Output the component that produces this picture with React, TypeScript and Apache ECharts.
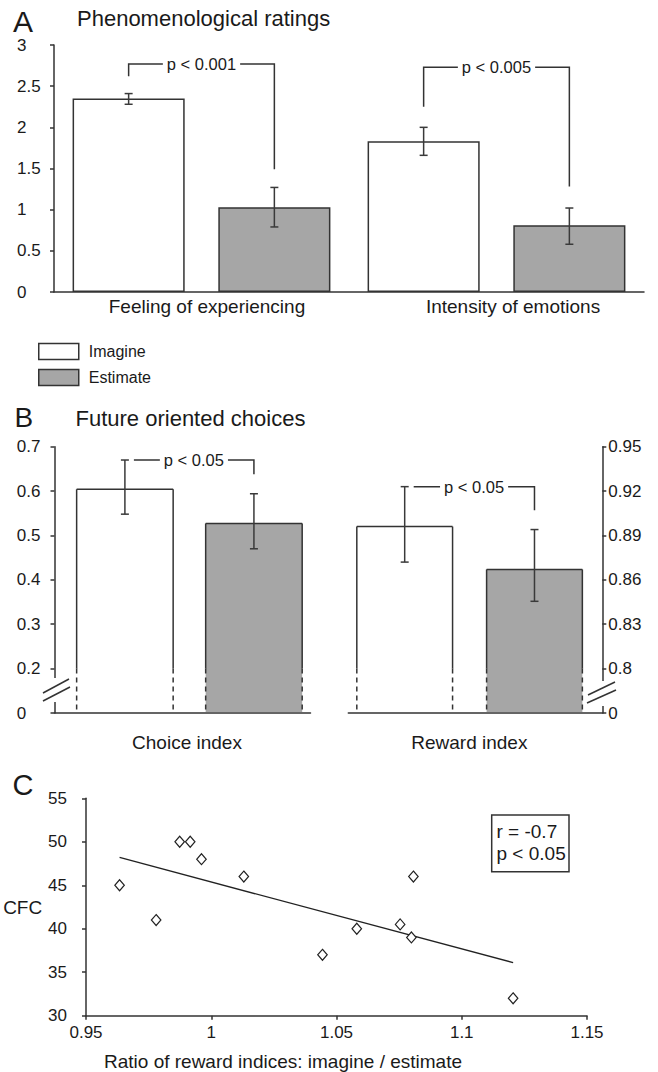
import React, { useEffect, useRef } from 'react';
import * as echarts from 'echarts';

// ---------- Panel A: Phenomenological ratings ----------
const aCategories = ['Feeling of experiencing', 'Intensity of emotions'];
const aImagine = [2.35, 1.83];
const aImagineLow = [2.28, 1.66];
const aImagineHigh = [2.41, 2.0];
const aEstimate = [1.03, 0.81];
const aEstimateLow = [0.79, 0.58];
const aEstimateHigh = [1.27, 1.02];
const aBracketLeft = [2.62, 2.25];
const aBracketTop = [2.77, 2.73];
const aBracketRight = [1.49, 1.28];
const aPLabels = ['p < 0.001', 'p < 0.005'];

// ---------- Panel B: Future oriented choices ----------
const bCategories = ['Choice index', 'Reward index'];
const bImagine = [0.604, 0.896];
const bImagineLow = [0.548, 0.872];
const bImagineHigh = [0.67, 0.923];
const bEstimate = [0.527, 0.867];
const bEstimateLow = [0.47, 0.8455];
const bEstimateHigh = [0.594, 0.894];
const bBreakAt = [0.2, 0.8];
const bBracketY = [0.67, 0.923];
const bBracketRight = [0.638, 0.907];
const bPLabels = ['p < 0.05', 'p < 0.05'];

// ---------- Panel C: CFC vs ratio ----------
const cRatio = [0.9634, 0.978, 0.9874, 0.9916, 0.9961, 1.013, 1.0444, 1.0581, 1.0754, 1.0799, 1.0807, 1.1205];
const cCFC = [45, 41, 50, 50, 48, 46, 37, 40, 40.5, 39, 46, 32];
const cFitX = [0.9634, 1.1205];
const cFitY = [48.2, 36.1];

const FONT = "'Liberation Sans', Arial, Helvetica, sans-serif";
const INK = '#1a1a1a';
const LINE = '#333333';
const GREY = '#a6a6a6';

const A_BAR_W = 0.38;
const A_GAP = 0.3;
const A_OFF = (A_BAR_W * (1 + A_GAP)) / 2;
const B_BAR_W = 0.377;
const B_OFFSETS = [
  [-0.225, 0.279],
  [-0.278, 0.233],
];

function errBar(children: any[], x: number, y1: number, y2: number) {
  const st = { stroke: '#3a3a3a', lineWidth: 1.5 };
  children.push({ type: 'line', shape: { x1: x, y1, x2: x, y2 }, style: st });
  children.push({ type: 'line', shape: { x1: x - 4, y1, x2: x + 4, y2: y1 }, style: st });
  children.push({ type: 'line', shape: { x1: x - 4, y1: y2, x2: x + 4, y2 }, style: st });
}

function pText(text: string, x: number, y: number) {
  return {
    type: 'text',
    z2: 10,
    style: {
      text,
      x,
      y,
      fill: INK,
      fontSize: 16.5,
      fontFamily: FONT,
      align: 'center',
      verticalAlign: 'middle',
      textAlign: 'center',
      textVerticalAlign: 'middle',
      backgroundColor: '#fff',
      padding: [1, 4, 1, 4],
    },
  };
}

function renderA(params: any, api: any) {
  const i = api.value(0);
  const band = api.size([1, 0])[0];
  const cx = api.coord([i, 0])[0];
  const xs = [cx - A_OFF * band, cx + A_OFF * band];
  const y = (v: number) => api.coord([i, v])[1];
  const children: any[] = [];
  errBar(children, xs[0], y(api.value(1)), y(api.value(2)));
  errBar(children, xs[1], y(api.value(3)), y(api.value(4)));
  const yl = y(api.value(5));
  const yt = y(api.value(6));
  const yr = y(api.value(7));
  children.push({
    type: 'polyline',
    shape: { points: [[xs[0], yl], [xs[0], yt], [xs[1], yt], [xs[1], yr]] },
    style: { stroke: LINE, lineWidth: 1.5, fill: null },
  });
  children.push(pText(aPLabels[params.dataIndex], cx, yt));
  return { type: 'group', children };
}

function makeRenderB(g: number) {
  return (params: any, api: any) => {
    const band = api.size([1, 0])[0];
    const cx = api.coord([0, api.value(1)])[0];
    const bottom = params.coordSys.y + params.coordSys.height - 1;
    const y = (v: number) => api.coord([0, v])[1];
    const bw = B_BAR_W * band;
    const yBreak = y(api.value(7));
    const fills = ['#ffffff', GREY];
    const solid = { stroke: LINE, lineWidth: 1.5 };
    const dashed = { stroke: LINE, lineWidth: 1.5, lineDash: [5, 4] };
    const children: any[] = [];
    const centers: number[] = [];
    for (let j = 0; j < 2; j++) {
      const xc = cx + B_OFFSETS[g][j] * band;
      centers.push(xc);
      const x0 = xc - bw / 2;
      const x1 = xc + bw / 2;
      const yTop = y(api.value(1 + 3 * j));
      children.push({ type: 'rect', shape: { x: x0, y: yTop, width: bw, height: bottom - yTop }, style: { fill: fills[j] } });
      children.push({ type: 'line', shape: { x1: x0, y1: yTop, x2: x1, y2: yTop }, style: solid });
      children.push({ type: 'line', shape: { x1: x0, y1: yTop, x2: x0, y2: yBreak }, style: solid });
      children.push({ type: 'line', shape: { x1: x1, y1: yTop, x2: x1, y2: yBreak }, style: solid });
      children.push({ type: 'line', shape: { x1: x0, y1: yBreak, x2: x0, y2: bottom }, style: dashed });
      children.push({ type: 'line', shape: { x1: x1, y1: yBreak, x2: x1, y2: bottom }, style: dashed });
      errBar(children, xc, y(api.value(2 + 3 * j)), y(api.value(3 + 3 * j)));
    }
    const yb = y(api.value(8));
    const yr = y(api.value(9));
    const xl = centers[0] + 9;
    const xr = centers[1];
    children.push({
      type: 'polyline',
      shape: { points: [[xl, yb], [xr, yb], [xr, yr]] },
      style: { stroke: LINE, lineWidth: 1.5, fill: null },
    });
    children.push(pText(bPLabels[g], (xl + xr) / 2, yb));
    return { type: 'group', children };
  };
}

function gText(text: string, x: number, y: number, fontSize: number) {
  return {
    type: 'text',
    x,
    y,
    z: 100,
    style: {
      text,
      fill: INK,
      fontSize,
      fontFamily: FONT,
      textAlign: 'left',
      textVerticalAlign: 'middle',
      align: 'left',
      verticalAlign: 'middle',
    },
  };
}

const axisLine = { show: true, onZero: false, lineStyle: { color: LINE, width: 1.5 } };
const axisTick = { show: true, length: 4, lineStyle: { color: LINE, width: 1.5 } };
const tickLabel = { color: INK, fontSize: 17, fontFamily: FONT };

export default function App() {
  const ref = useRef<HTMLDivElement>(null);

  useEffect(() => {
    document.body.style.margin = '0';
    if (!ref.current) return;
    const chart = echarts.init(ref.current, null, { renderer: 'svg' });

    const aRows = aCategories.map((_, i) => [
      i,
      aImagineLow[i],
      aImagineHigh[i],
      aEstimateLow[i],
      aEstimateHigh[i],
      aBracketLeft[i],
      aBracketTop[i],
      aBracketRight[i],
    ]);
    const bRows = bCategories.map((_, g) => [
      [0, bImagine[g], bImagineLow[g], bImagineHigh[g], bEstimate[g], bEstimateLow[g], bEstimateHigh[g], bBreakAt[g], bBracketY[g], bBracketRight[g]],
    ]);

    const option: any = {
      animation: false,
      backgroundColor: '#ffffff',
      textStyle: { fontFamily: FONT, color: INK },
      grid: [
        { left: 54, top: 45, width: 590, height: 247 },
        { left: 54.5, top: 446.7, width: 256, height: 266.3 },
        { left: 348.3, top: 446.7, width: 254, height: 266.3 },
        { left: 86, top: 798.3, width: 501, height: 217.4 },
      ],
      legend: {
        data: ['Imagine', 'Estimate'],
        orient: 'vertical',
        left: 33,
        top: 337.7,
        itemWidth: 40,
        itemHeight: 16,
        itemGap: 8.6,
        icon: 'rect',
        selectedMode: false,
        itemStyle: { borderColor: LINE, borderWidth: 1.5 },
        textStyle: { fontSize: 16, color: INK, fontFamily: FONT, padding: [0, 0, 0, 5] },
      },
      xAxis: [
        {
          gridIndex: 0,
          type: 'category',
          data: [
            { value: aCategories[0], textStyle: { padding: [0, 0, 0, 11] } },
            { value: aCategories[1], textStyle: { padding: [0, 0, 0, 33] } },
          ],
          axisLine,
          axisTick: { show: false },
          axisLabel: { color: INK, fontSize: 19, fontFamily: FONT, margin: 5 },
        },
        {
          gridIndex: 1,
          type: 'category',
          data: [{ value: bCategories[0], textStyle: { padding: [0, 0, 0, 9] } }],
          axisLine,
          axisTick: { show: false },
          axisLabel: { color: INK, fontSize: 19, fontFamily: FONT, margin: 20 },
        },
        {
          gridIndex: 2,
          type: 'category',
          data: [{ value: bCategories[1], textStyle: { padding: [0, 12, 0, 0] } }],
          axisLine,
          axisTick: { show: false },
          axisLabel: { color: INK, fontSize: 19, fontFamily: FONT, margin: 20 },
        },
        {
          gridIndex: 3,
          type: 'value',
          min: 0.95,
          max: 1.15,
          interval: 0.05,
          axisLine,
          axisTick,
          splitLine: { show: false },
          axisLabel: { ...tickLabel, margin: 8, formatter: (v: number) => String(Math.round(v * 100) / 100) },
          name: 'Ratio of reward indices: imagine / estimate',
          nameLocation: 'middle',
          nameGap: 36,
          nameTextStyle: { color: INK, fontSize: 19, fontFamily: FONT, padding: [0, 107, 0, 0] },
        },
      ],
      yAxis: [
        {
          gridIndex: 0,
          type: 'value',
          min: 0,
          max: 3,
          interval: 0.5,
          axisLine,
          axisTick,
          splitLine: { show: false },
          axisLabel: { ...tickLabel, align: 'left', margin: 37 },
        },
        {
          gridIndex: 1,
          type: 'value',
          min: 0.1,
          max: 0.7,
          interval: 0.1,
          axisLine,
          axisTick,
          splitLine: { show: false },
          axisLabel: {
            ...tickLabel,
            align: 'left',
            margin: 37.7,
            formatter: (v: number) => (v < 0.15 ? '0' : String(Math.round(v * 10) / 10)),
          },
        },
        {
          gridIndex: 2,
          type: 'value',
          position: 'right',
          min: 0.77,
          max: 0.95,
          interval: 0.03,
          axisLine,
          axisTick,
          splitLine: { show: false },
          axisLabel: {
            ...tickLabel,
            margin: 6,
            formatter: (v: number) => (v < 0.785 ? '0' : String(Math.round(v * 100) / 100)),
          },
        },
        {
          gridIndex: 3,
          type: 'value',
          min: 30,
          max: 55,
          interval: 5,
          axisLine,
          axisTick,
          splitLine: { show: false },
          axisLabel: { ...tickLabel, margin: 19 },
          name: 'CFC',
          nameLocation: 'middle',
          nameRotate: 0,
          nameGap: 36,
          nameTextStyle: { color: INK, fontSize: 19, fontFamily: FONT, align: 'right' },
        },
      ],
      series: [
        {
          name: 'Imagine',
          type: 'bar',
          xAxisIndex: 0,
          yAxisIndex: 0,
          data: aImagine,
          barWidth: A_BAR_W * 100 + '%',
          barGap: A_GAP * 100 + '%',
          itemStyle: { color: '#ffffff', borderColor: LINE, borderWidth: 1.5 },
        },
        {
          name: 'Estimate',
          type: 'bar',
          xAxisIndex: 0,
          yAxisIndex: 0,
          data: aEstimate,
          barWidth: A_BAR_W * 100 + '%',
          barGap: A_GAP * 100 + '%',
          itemStyle: { color: GREY, borderColor: LINE, borderWidth: 1.5 },
        },
        {
          type: 'custom',
          xAxisIndex: 0,
          yAxisIndex: 0,
          data: aRows,
          renderItem: renderA,
          z: 5,
        },
        {
          type: 'custom',
          xAxisIndex: 1,
          yAxisIndex: 1,
          data: bRows[0],
          renderItem: makeRenderB(0),
          z: 1,
        },
        {
          type: 'custom',
          xAxisIndex: 2,
          yAxisIndex: 2,
          data: bRows[1],
          renderItem: makeRenderB(1),
          z: 1,
        },
        {
          type: 'scatter',
          xAxisIndex: 3,
          yAxisIndex: 3,
          data: cRatio.map((x, i) => [x, cCFC[i]]),
          symbol: 'diamond',
          symbolSize: [9.5, 11],
          itemStyle: { color: '#ffffff', borderColor: '#222', borderWidth: 1.2, opacity: 1 },
          z: 3,
        },
        {
          type: 'line',
          xAxisIndex: 3,
          yAxisIndex: 3,
          data: cFitX.map((x, i) => [x, cFitY[i]]),
          symbol: 'none',
          lineStyle: { color: '#222', width: 1.4 },
          z: 2,
        },
      ],
      graphic: [
        gText('A', 13, 21, 30),
        gText('Phenomenological ratings', 77, 18, 22),
        gText('B', 14.5, 417, 28),
        gText('Future oriented choices', 75.5, 418, 22),
        gText('C', 12.6, 785, 29),
        // axis breaks (panel B)
        { type: 'rect', z: 90, shape: { x: 50, y: 678, width: 9, height: 24 }, style: { fill: '#fff' } },
        { type: 'rect', z: 90, shape: { x: 598, y: 681, width: 9, height: 25 }, style: { fill: '#fff' } },
        { type: 'line', z: 95, shape: { x1: 43, y1: 693, x2: 69, y2: 679 }, style: { stroke: LINE, lineWidth: 1.5 } },
        { type: 'line', z: 95, shape: { x1: 43, y1: 701, x2: 70, y2: 687 }, style: { stroke: LINE, lineWidth: 1.5 } },
        { type: 'line', z: 95, shape: { x1: 588, y1: 695, x2: 615, y2: 682 }, style: { stroke: LINE, lineWidth: 1.5 } },
        { type: 'line', z: 95, shape: { x1: 587, y1: 703, x2: 616, y2: 690 }, style: { stroke: LINE, lineWidth: 1.5 } },
        // statistics box (panel C)
        {
          type: 'rect',
          z: 90,
          shape: { x: 491.7, y: 815, width: 77.3, height: 56.7 },
          style: { fill: '#fff', stroke: LINE, lineWidth: 1.5 },
        },
        gText('r = -0.7', 496.5, 831.7, 19),
        gText('p < 0.05', 496.5, 853.3, 19),
      ],
    };

    chart.setOption(option);
    return () => chart.dispose();
  }, []);

  return <div ref={ref} style={{ width: 658, height: 1072 }} />;
}
